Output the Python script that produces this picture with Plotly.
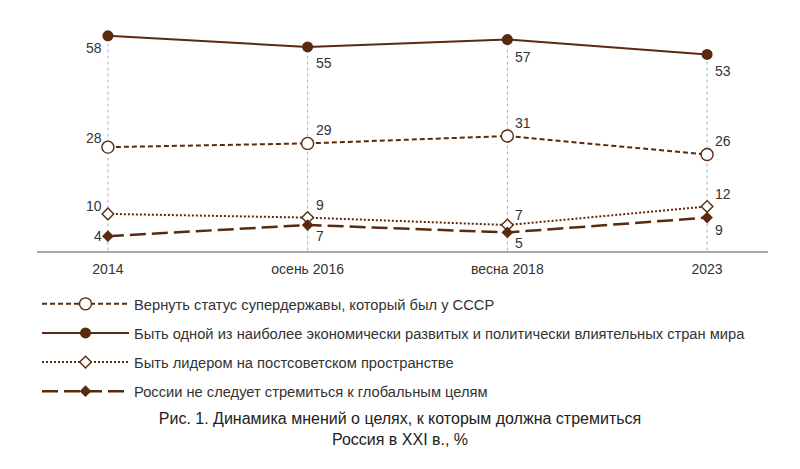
import plotly.graph_objects as go

# ---- data ----
categories = ["2014", "осень 2016", "весна 2018", "2023"]
series_names = [
    "Вернуть статус супердержавы, который был у СССР",
    "Быть одной из наиболее экономически развитых и политически влиятельных стран мира",
    "Быть лидером на постсоветском пространстве",
    "России не следует стремиться к глобальным целям",
]
superpower = [28, 29, 31, 26]
developed = [58, 55, 57, 53]
leader = [10, 9, 7, 12]
no_goals = [4, 7, 5, 9]
title_text = "Рис. 1. Динамика мнений о целях, к которым должна стремиться<br>Россия в XXI в., %"

# ---- styles ----
BROWN = "#5a2a0e"
TXT = "#333333"
FONT = "Liberation Sans, Arial, sans-serif"

values = [superpower, developed, leader, no_goals]
styles = [
    dict(dash="5px,3px", width=2, symbol="circle", size=12, mline=1.4, fill="white"),
    dict(dash="solid", width=2, symbol="circle", size=11, mline=0, fill=BROWN),
    dict(dash="2px,2px", width=2, symbol="diamond", size=9, mline=1.4, fill="white"),
    dict(dash="16px,6px", width=2.5, symbol="diamond", size=9, mline=0, fill=BROWN),
]
# label vertical offsets (px, + is up) per series/point
label_dy = [
    [9, 13, 13, 14],
    [-12, -16, -17, -17],
    [8, 13, 10, 12],
    [0, -11, -11, -12],
]

fig = go.Figure()

# vertical dashed guide lines from axis to highest point (x given as category index)
for i in range(len(categories)):
    top = max(v[i] for v in values)
    fig.add_shape(type="line", xref="x", yref="y", x0=i, x1=i, y0=-1.5, y1=top,
                  line=dict(color="#b0b0b0", width=1, dash="3px,3px"), layer="below")

for name, vals, st in zip(series_names, values, styles):
    fig.add_trace(go.Scatter(
        x=categories, y=vals, name=name, mode="lines+markers",
        line=dict(color=BROWN, width=st["width"], dash=st["dash"]),
        marker=dict(symbol=st["symbol"], size=st["size"], color=st["fill"],
                    line=dict(color=BROWN, width=st["mline"])),
        legendgroup=name, cliponaxis=False,
    ))

for si, vals in enumerate(values):
    for i, v in enumerate(vals):
        first = i == 0
        fig.add_annotation(x=i, y=v, xref="x", yref="y", text=str(v), showarrow=False,
                           xanchor="right" if first else "left",
                           xshift=-4 if first else 6, yshift=label_dy[si][i],
                           font=dict(family=FONT, size=14, color=TXT))

fig.update_layout(
    width=800, height=469,
    margin=dict(l=37, r=32, t=21, b=218),
    paper_bgcolor="white", plot_bgcolor="white",
    showlegend=True,
    legend=dict(x=0.0, xanchor="left", y=-0.16, yanchor="top",
                font=dict(family=FONT, size=14.7, color=TXT),
                itemwidth=87, tracegroupgap=7, traceorder="grouped",
                bgcolor="rgba(0,0,0,0)"),
    title=dict(text=title_text, x=0.5, xref="container", xanchor="center",
               y=1 - 424 / 469, yref="container", yanchor="middle",
               font=dict(family=FONT, size=16, color="#222222")),
    xaxis=dict(type="category", range=[-0.355, 3.305], showgrid=False, zeroline=False,
               showline=True, linecolor="#a8a8a8", linewidth=1.5,
               ticks="", ticklabelstandoff=4,
               tickfont=dict(family=FONT, size=14, color=TXT), fixedrange=True),
    yaxis=dict(range=[0, 62], visible=False, showgrid=False, zeroline=False, fixedrange=True),
)

fig.write_html("out.html")
